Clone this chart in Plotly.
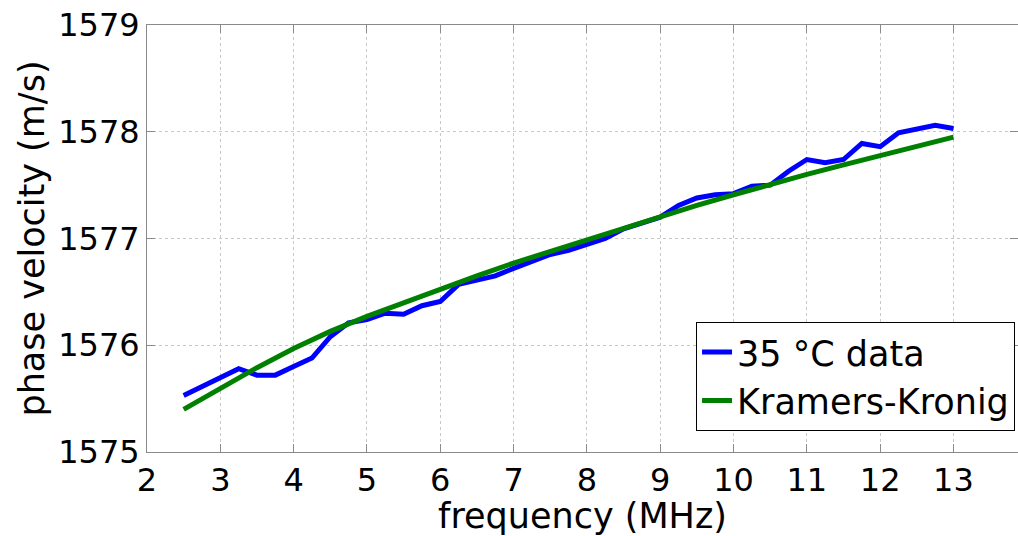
import plotly.graph_objects as go

# Measured data (35 °C)
freq_data = [2.5, 2.75, 3.0, 3.25, 3.5, 3.75, 4.0, 4.25, 4.5, 4.75, 5.0, 5.25, 5.5, 5.75,
             6.0, 6.25, 6.5, 6.75, 7.0, 7.25, 7.5, 7.75, 8.0, 8.25, 8.5, 8.75, 9.0, 9.25,
             9.5, 9.75, 10.0, 10.25, 10.5, 10.75, 11.0, 11.25, 11.5, 11.75, 12.0, 12.25,
             12.5, 12.75, 13.0]
vel_data = [1575.53, 1575.61, 1575.70, 1575.78, 1575.72, 1575.72, 1575.80, 1575.88, 1576.08,
            1576.21, 1576.24, 1576.30, 1576.29, 1576.37, 1576.41, 1576.57, 1576.61, 1576.65,
            1576.72, 1576.79, 1576.85, 1576.89, 1576.94, 1577.00, 1577.09, 1577.14, 1577.20,
            1577.31, 1577.38, 1577.41, 1577.42, 1577.49, 1577.50, 1577.63, 1577.74, 1577.71,
            1577.74, 1577.89, 1577.86, 1577.99, 1578.02, 1578.06, 1578.03]

# Kramers-Kronig prediction
freq_kk = [2.5, 3.0, 3.5, 4.0, 4.5, 5.0, 5.5, 6.0, 6.5, 7.0, 7.5, 8.0, 8.5, 9.0, 9.5,
           10.0, 10.5, 11.0, 11.5, 12.0, 12.5, 13.0]
vel_kk = [1575.40, 1575.60, 1575.79, 1575.97, 1576.13, 1576.27, 1576.40, 1576.53, 1576.65,
          1576.77, 1576.88, 1576.99, 1577.10, 1577.21, 1577.31, 1577.41, 1577.51, 1577.60,
          1577.69, 1577.78, 1577.87, 1577.95]

x_ticks = list(range(2, 14))
y_ticks = [1575, 1576, 1577, 1578, 1579]

FONT = "DejaVu Sans, Arial, sans-serif"
FS_TICK = 32
FS = 35

fig = go.Figure()
fig.add_trace(go.Scatter(x=freq_data, y=vel_data, mode="lines", name="35 °C data",
                         line=dict(color="#0000FF", width=5)))
fig.add_trace(go.Scatter(x=freq_kk, y=vel_kk, mode="lines", name="Kramers-Kronig",
                         line=dict(color="#008000", width=5)))

axis_common = dict(
    showline=True, linecolor="#8a8a8a", linewidth=1, mirror="ticks",
    ticks="inside", ticklen=8, tickcolor="#8a8a8a", tickwidth=1,
    showgrid=True, gridcolor="#c8c8c8", griddash="dot", gridwidth=1,
    zeroline=False, tickfont=dict(size=FS_TICK, color="black", family=FONT),
)

fig.update_xaxes(range=[2, 13.88], tickvals=x_ticks, ticktext=[str(t) for t in x_ticks],
                 title=dict(text="frequency (MHz)", font=dict(size=FS, color="black", family=FONT),
                            standoff=3),
                 **axis_common)
fig.update_yaxes(range=[1575, 1579], tickvals=y_ticks, ticktext=[str(t) for t in y_ticks],
                 title=dict(text="phase velocity (m/s)", font=dict(size=FS, color="black", family=FONT),
                            standoff=2),
                 **axis_common)

fig.update_layout(
    width=1018, height=536,
    margin=dict(l=147, r=0, t=25, b=84),
    paper_bgcolor="white", plot_bgcolor="white",
    font=dict(family=FONT, size=FS, color="black"),
    legend=dict(x=0.9966, y=0.305, xanchor="right", yanchor="top",
                bordercolor="black", borderwidth=1, bgcolor="white",
                font=dict(size=FS, family=FONT, color="black"),
                itemwidth=30, tracegroupgap=0),
    showlegend=True,
)

fig.write_html("out.html")
